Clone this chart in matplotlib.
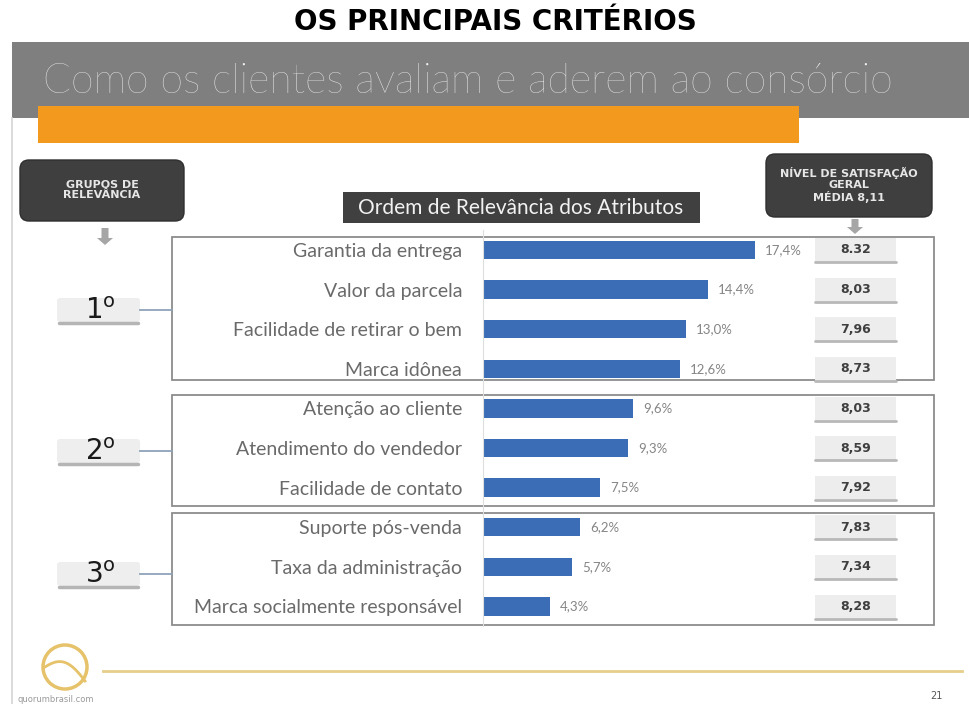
import numpy as np
import matplotlib
matplotlib.use('Agg')
import matplotlib.pyplot as plt
from matplotlib.patches import Rectangle, FancyBboxPatch, FancyArrow, Circle

plt.rcParams['mathtext.fontset'] = 'dejavusans'

# data
attributes = ['Garantia da entrega', 'Valor da parcela',
              'Facilidade de retirar o bem', 'Marca idônea',
              'Atenção ao cliente', 'Atendimento do vendedor',
              'Facilidade de contato', 'Suporte pós-venda',
              'Taxa da administração', 'Marca socialmente responsável']
relevance = [17.4, 14.4, 13.0, 12.6, 9.6, 9.3, 7.5, 6.2, 5.7, 4.3]
satisfaction = ['8.32', '8,03', '7,96', '8,73', '8,03', '8,59', '7,92',
                '7,83', '7,34', '8,28']
groups = ['1', '2', '3']

W, H = 969, 704
fig = plt.figure(figsize=(W/100, H/100), dpi=100)

# background axes in pixel coordinates
bg = fig.add_axes([0, 0, 1, 1])
bg.set_xlim(0, W)
bg.set_ylim(H, 0)
bg.axis('off')

# title
bg.text(495, 22, 'OS PRINCIPAIS CRITÉRIOS', ha='center', va='center',
        fontsize=20, fontweight='bold', family='DejaVu Sans', color='black')

# header band
bg.add_patch(Rectangle((12, 42), W-12, 76, color='#7f7f7f', lw=0))
bg.add_patch(Rectangle((38, 106), 761, 37, color='#f39a1e', lw=0))
bg.text(43, 93, 'Como os clientes avaliam e aderem ao consórcio',
        ha='left', va='baseline', fontsize=29.6, color='#f2f2f2',
        family='Lato', fontweight='light')
bg.plot([12, 12], [118, H], color='#d4d4d4', lw=1.2)

# dark labels
box_txt = dict(ha='center', va='center', fontsize=8, color='#e6e6e6',
               linespacing=1.1, family='DejaVu Sans Condensed',
               fontweight='bold')
bg.add_patch(FancyBboxPatch((20, 160), 164, 61,
                            boxstyle='round,pad=0,rounding_size=9',
                            fc='#3f3f3f', ec='#2f2f2f', lw=1))
bg.text(102, 190, 'GRUPOS DE\nRELEVÂNCIA', **box_txt)
bg.add_patch(FancyArrow(105, 228, 0, 10, width=7, head_width=16,
                        head_length=7, color='#a6a6a6', lw=0))

bg.add_patch(Rectangle((343, 192), 357, 31, color='#404040', lw=0))
bg.text(521, 208, 'Ordem de Relevância dos Atributos', ha='center',
        va='center', fontsize=15, color='#f2f2f2', family='Lato')

bg.add_patch(FancyBboxPatch((766, 154), 166, 63,
                            boxstyle='round,pad=0,rounding_size=9',
                            fc='#3f3f3f', ec='#2f2f2f', lw=1))
bg.text(849, 185, 'NÍVEL DE SATISFAÇÃO\nGERAL\nMÉDIA 8,11', **box_txt)
bg.add_patch(FancyArrow(855, 219, 0, 8, width=7, head_width=16,
                        head_length=7, color='#a6a6a6', lw=0))

# group frames and labels
frames = [(237, 380), (395, 506), (513, 625)]
label_y = [310, 451, 574]
for (top, bot), g, gy in zip(frames, groups, label_y):
    bg.add_patch(Rectangle((172, top), 762, bot-top, fc='none',
                           ec='#8c8c8c', lw=1.3))
    bg.add_patch(FancyBboxPatch((57, gy-12), 83, 24,
                                boxstyle='round,pad=0,rounding_size=3',
                                fc='#eeeeee', ec='none'))
    bg.plot([59, 138], [gy+12.5, gy+12.5], color='#b5b5b5', lw=2.5,
            solid_capstyle='round')
    bg.text(100, gy+1, g + r'$^{\mathrm{o}}$', ha='center', va='center',
            fontsize=20, color='#1a1a1a', family='DejaVu Sans')
    bg.plot([140, 172], [gy, gy], color='#8fa3b8', lw=1.3)

# footer
bg.add_patch(Circle((65, 667), 22, fc='none', ec='#e6c36a', lw=2.5))
tt = np.linspace(0, 1, 30)
bg.plot(45 + 40*tt, 667 - 8*np.sin(np.pi*tt) + 14*tt**2, color='#e6c36a',
        lw=2)
bg.plot([103, 962], [671, 671], color='#e6cf8a', lw=2)
bg.text(18, 700, 'quorumbrasil.com', ha='left', va='center', fontsize=6,
        color='#9a9a9a')
bg.text(936, 696, '21', ha='center', va='center', fontsize=7,
        color='#555555')

# bar chart
y0, dy = 250.0, 39.6
top_px = y0 - dy/2
bot_px = y0 + dy*9.5
px_per_unit = 15.63
x_left, x_right = 483, 934
ax = fig.add_axes([x_left/W, 1 - bot_px/H, (x_right-x_left)/W,
                   (bot_px-top_px)/H])
ax.patch.set_alpha(0)
pos = np.arange(len(attributes))
ax.barh(pos, relevance, height=0.46, color='#3a6db5')
ax.set_xlim(0, (x_right-x_left)/px_per_unit)
ax.set_ylim(len(attributes)-0.5, -0.5)
ax.set_xticks([])
ax.set_yticks(pos, attributes)
ax.tick_params(axis='y', length=0, pad=15, labelsize=14,
               labelcolor='#6a6a6a')
for lab in ax.get_yticklabels():
    lab.set_family('Lato')
for s in ['top', 'right', 'bottom']:
    ax.spines[s].set_visible(False)
ax.spines['left'].set_color('#dedede')

for i, (v, s) in enumerate(zip(relevance, satisfaction)):
    ax.annotate('{:.1f}%'.format(v).replace('.', ','), (v, i),
                xytext=(10, 0), textcoords='offset pixels', ha='left',
                va='center', fontsize=9.5, color='#858585', family='Lato')
    cx = (855.5 - x_left)/px_per_unit
    bw = 81/px_per_unit
    ax.add_patch(Rectangle((cx - bw/2, i - 0.3), bw, 0.6, fc='#ededed',
                           ec='none', clip_on=False))
    ax.plot([cx - bw/2, cx + bw/2], [i + 0.31, i + 0.31], color='#b8b8b8',
            lw=2, clip_on=False, solid_capstyle='round')
    ax.text(cx, i, s, ha='center', va='center', fontsize=9,
            fontweight='bold', color='#3f3f3f', family='DejaVu Sans')

fig.savefig('out.png', dpi=100)
